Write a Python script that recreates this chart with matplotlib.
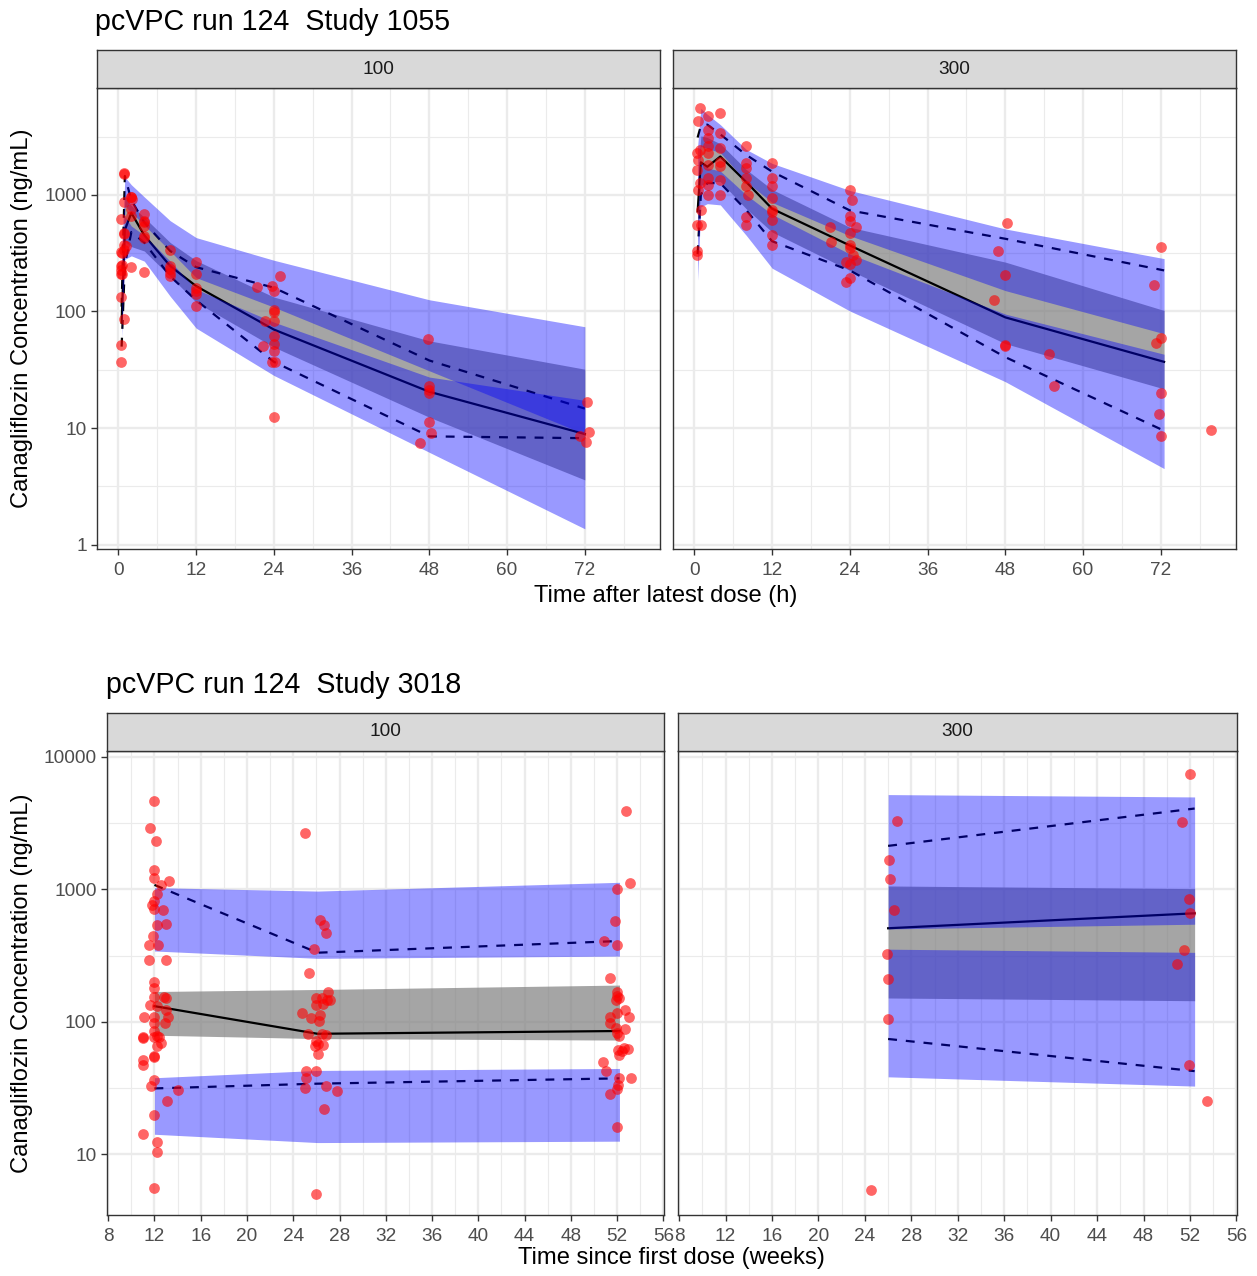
import matplotlib
matplotlib.use('Agg')
import matplotlib.pyplot as plt
from matplotlib.ticker import NullFormatter

plt.rcParams['font.family'] = ['Liberation Sans', 'DejaVu Sans']

W, H = 1257, 1276

# ---- Study 1055, 100 mg (time after dose, h) ----
t_1055_100 = [0.5, 1, 2, 4, 8, 12, 24, 48, 72]
hi95_1055_100 = [300, 1420, 1220, 960, 600, 430, 275, 126, 74]
lo95_1055_100 = [140, 800, 710, 550, 330, 195, 109, 31, 8.9]
hiM_1055_100 = [180, 950, 810, 640, 390, 273, 133, 56, 32]
loM_1055_100 = [80, 400, 360, 330, 200, 120, 49.5, 12.4, 3.6]
hi5_1055_100 = [110, 650, 540, 450, 270, 155, 81, 27.4, 17.3]
lo5_1055_100 = [60, 280, 300, 270, 135, 72, 28.3, 6.2, 1.37]
p95_1055_100 = [110, 1450, 900, 580, 330, 240, 160, 38, 14.7]
med_1055_100 = [80, 500, 700, 450, 245, 165, 70, 20.5, 8.9]
p5_1055_100 = [50, 250, 480, 390, 200, 125, 37, 8.5, 8.2]
obs_t_1055_100 = [0.4, 0.4, 0.4, 0.4, 0.4, 0.4, 0.4, 0.4, 0.5, 0.5, 0.6,
                  0.9, 0.9, 0.9, 0.9, 0.9, 0.9, 0.9, 0.9, 1.1,
                  2.0, 1.9, 2.1, 2.0, 2.0, 1.9,
                  3.9, 4.0, 4.0, 4.0, 4.0, 3.9, 4.0,
                  8, 8, 8, 8, 8,
                  12, 12, 12, 12, 12, 12,
                  21.4, 23.7, 24, 25, 24, 24, 22.6, 24, 24, 24, 24, 22.3, 23.7, 24.1, 24,
                  47.8, 48, 48, 48, 48, 48.2, 46.6,
                  72.3, 72.7, 71.3, 72.2]
obs_c_1055_100 = [620, 325, 245, 225, 209, 134, 52, 37, 250, 210, 320,
                  1550, 1500, 860, 475, 335, 86, 465, 370, 365,
                  950, 950, 920, 660, 750, 240,
                  690, 600, 540, 445, 430, 218, 590,
                  335, 245, 230, 215, 200,
                  263, 209, 158, 150, 140, 112,
                  162, 167, 149, 200, 103, 99, 83, 83, 62, 53, 46, 51, 37, 37, 12.4,
                  58.5, 22.8, 21.3, 20, 11.2, 9.1, 7.4,
                  16.7, 9.2, 8.5, 7.6]

# ---- Study 1055, 300 mg ----
t_1055_300 = [0.5, 1, 2, 4, 8, 12, 24, 48, 72.5]
hi95_1055_300 = [2600, 5500, 4900, 4000, 2450, 1860, 1090, 510, 284]
lo95_1055_300 = [1000, 2600, 2500, 2300, 1300, 860, 446, 151, 64.5]
hiM_1055_300 = [1300, 3200, 3100, 2740, 1650, 1110, 527, 265, 102]
loM_1055_300 = [400, 1200, 1300, 1300, 760, 480, 225, 53, 21.7]
hi5_1055_300 = [700, 1900, 1700, 1600, 1000, 680, 311, 95, 43]
lo5_1055_300 = [185, 790, 840, 820, 450, 235, 101, 25, 4.5]
p95_1055_300 = [3100, 3900, 4000, 3300, 2200, 1580, 735, 420, 225]
med_1055_300 = [720, 1900, 1740, 2130, 1290, 760, 368, 89, 37]
p5_1055_300 = [310, 1000, 1260, 1260, 740, 400, 225, 40.6, 9.5]
obs_t_1055_300 = [0.9, 0.5, 2.1, 3.9, 2.1, 2.1, 0.8, 0.4, 0.5, 0.4, 2.1, 2.1,
                  3.9, 3.9, 3.9, 3.9, 2.1, 2.1, 2.1, 0.8, 0.5, 2.1, 3.9, 3.9,
                  1.0, 0.4, 1.0, 0.4, 0.4,
                  8, 8, 8, 8, 8, 8.2, 8, 8,
                  12, 12, 12, 12, 12, 12, 12, 12, 12,
                  24, 24.4, 24, 24, 25, 21, 21.1, 24, 24, 24, 24.5, 25, 23.4, 24, 24, 23.4,
                  48.2, 46.9, 48, 46.2, 48, 48, 54.7, 55.5,
                  72, 71, 72, 71.3, 72, 71.7, 72, 79.8]
obs_c_1055_300 = [5500, 4270, 4700, 5000, 3600, 3070, 2430, 2280, 2000, 1640, 2600, 2280,
                  3380, 2510, 1930, 1750, 1810, 1390, 1220, 1260, 1100, 1000, 1350, 1000,
                  740, 550, 550, 330, 306,
                  2600, 1870, 1690, 1390, 1180, 1000, 650, 550,
                  1870, 1390, 1180, 935, 745, 715, 610, 455, 373,
                  1090, 906, 665, 602, 535, 535, 393, 470, 368, 350, 302, 274, 265, 256, 194, 178,
                  572, 329, 206, 126, 52, 51, 43.4, 23,
                  356, 169, 59.5, 54, 20, 13.3, 8.6, 9.7]

# ---- Study 3018, 100 mg (weeks) ----
t_3018_100 = [12.0, 26.1, 52.2]
hi95_3018_100 = [1030, 970, 1130]
lo95_3018_100 = [342, 301, 313]
hiM_3018_100 = [169, 175, 189]
loM_3018_100 = [79, 74.5, 72.6]
hi5_3018_100 = [37.7, 42.8, 44.3]
lo5_3018_100 = [14.1, 12.2, 12.5]
p95_3018_100 = [1080, 332, 407]
med_3018_100 = [131, 81, 85]
p5_3018_100 = [31.3, 34, 37.3]
obs_t_3018_100 = [12.0, 11.6, 12.1, 12.0, 12.0, 13.3, 12.6, 12.2, 12.0, 11.8, 12.0, 12.7,
                  12.2, 13.0, 11.9, 11.5, 12.3, 11.5, 13.0, 12.0, 12.0, 12.0, 12.8, 13.0,
                  11.6, 12.2, 13.0, 11.1, 12.0, 13.2, 12.0, 12.9, 12.0, 12.2, 11.0, 11.0,
                  12.4, 12.0, 12.2, 12.6, 12.0, 12.0, 11.0, 11.0, 12.0, 11.7, 14.0, 13.1,
                  12.0, 12.2, 12.2, 11.0, 12.0,
                  25.0, 26.3, 26.7, 26.8, 25.8, 25.4, 27.0, 26.0, 26.5, 26.9, 27.2, 26.0,
                  26.6, 24.8, 25.5, 26.3, 26.2, 25.3, 26.5, 26.8, 26.0, 26.1, 25.9, 26.6,
                  26.1, 25.1, 26.0, 25.1, 25.0, 26.8, 27.8, 26.7, 26.0,
                  52.8, 53.1, 52.0, 51.8, 50.9, 52.0, 51.4, 52.0, 52.0, 52.2, 51.9, 52.7,
                  51.4, 53.0, 52.0, 51.4, 52.7, 51.9, 52.0, 52.2, 52.6, 52.9, 52.1, 52.4,
                  52.2, 50.8, 51.0, 53.2, 52.2, 52.1, 52.0, 51.4, 52.0]
obs_c_3018_100 = [4650, 2890, 2320, 1400, 1225, 1157, 1072, 927, 816, 757, 706, 694,
                  535, 544, 444, 378, 378, 290, 290, 200, 179, 154, 154, 150,
                  133, 131, 122, 108, 108, 108, 97, 98, 85, 78, 76, 75,
                  77, 77, 66, 69, 55, 54, 51, 47, 36, 32.7, 30.5, 25.1,
                  19.6, 12.3, 10.4, 14.1, 5.57,
                  2680, 583, 535, 471, 352, 234, 169, 152, 152, 145, 147, 133,
                  135, 117, 106, 112, 101, 80, 80, 79, 72, 68, 66, 67,
                  57, 42.4, 42.4, 37.8, 31.7, 32.7, 29.9, 21.8, 5.0,
                  3910, 1122, 1012, 577, 408, 379, 212, 169, 155, 150, 145, 122,
                  108, 108, 116, 97, 88.5, 89, 82, 78, 63.7, 62, 61, 60,
                  56, 49.5, 42.4, 37.3, 37.6, 33, 31, 28.3, 16]

# ---- Study 3018, 300 mg ----
t_3018_300 = [26.0, 52.4]
hi95_3018_300 = [5200, 4990]
lo95_3018_300 = [502, 545]
hiM_3018_300 = [1060, 1012]
loM_3018_300 = [151, 144]
hi5_3018_300 = [353, 334]
lo5_3018_300 = [38.3, 32.6]
p95_3018_300 = [2130, 4080]
med_3018_300 = [508, 659]
p5_3018_300 = [74, 42.3]
obs_t_3018_300 = [52.0, 26.8, 51.3, 26.1, 26.2, 26.5, 51.9, 52.0, 25.9, 51.5, 50.9,
                  26.0, 26.0, 51.9, 53.5, 24.5]
obs_c_3018_300 = [7480, 3310, 3240, 1655, 1190, 698, 845, 659, 324, 345, 272,
                  211, 104, 47.4, 25, 5.36]

BLUE = '#0000FF'
DARK = '#333333'


def rect(x0, y0, x1, y1):
    return [x0 / W, 1 - y1 / H, (x1 - x0) / W, (y1 - y0) / H]


def draw_vpc(ax, t, hi95, lo95, hiM, loM, hi5, lo5, p95, med, p5, ot, oc):
    # gray first, then lines, then blue ribbons on top (lines show through as navy)
    ax.fill_between(t, loM, hiM, color='#7F7F7F', alpha=0.7, lw=0, zorder=1)
    ax.plot(t, med, color='black', lw=1.6, zorder=2)
    ax.plot(t, p95, color='black', lw=1.6, ls=(0, (4, 4)), zorder=2)
    ax.plot(t, p5, color='black', lw=1.6, ls=(0, (4, 4)), zorder=2)
    ax.fill_between(t, lo95, hi95, color=BLUE, alpha=0.4, lw=0, zorder=3)
    ax.fill_between(t, lo5, hi5, color=BLUE, alpha=0.4, lw=0, zorder=3)
    ax.scatter(ot, oc, s=60, color='red', alpha=0.6, lw=0, zorder=4)


def style(ax, xlim, ylim, xmaj, xmin, ymaj, ymin, show_y):
    ax.set_yscale('log')
    ax.set_xlim(xlim)
    ax.set_ylim(ylim)
    ax.set_xticks(xmaj, [str(v) for v in xmaj])
    ax.set_xticks(xmin, minor=True)
    ax.set_yticks(ymaj, [str(v) for v in ymaj])
    ax.set_yticks(ymin, minor=True)
    ax.yaxis.set_minor_formatter(NullFormatter())
    ax.grid(which='major', color='#EBEBEB', lw=1.7)
    ax.grid(which='minor', color='#EBEBEB', lw=0.85)
    ax.set_axisbelow(True)
    ax.tick_params(which='minor', length=0)
    ax.tick_params(which='major', length=4.3, width=1, color=DARK,
                   labelsize=13.7, labelcolor='#4D4D4D', pad=3)
    ax.tick_params(axis='x', pad=5)
    if not show_y:
        ax.tick_params(axis='y', which='both', left=False, labelleft=False)
    for s in ax.spines.values():
        s.set_color(DARK)
        s.set_linewidth(1)


def strip(fig, box, label):
    sax = fig.add_axes(rect(*box))
    sax.set_facecolor('#D9D9D9')
    sax.set_xticks([])
    sax.set_yticks([])
    for s in sax.spines.values():
        s.set_color(DARK)
        s.set_linewidth(1)
    sax.text(0.5, 0.5, label, ha='center', va='center', fontsize=13.7,
             color='#1A1A1A', transform=sax.transAxes)


fig = plt.figure(figsize=(W / 100, H / 100), dpi=100)

# top block
xl_top = (-3.3, 83.6)
yl_top = (0.92, 8240)
xmaj_top = [0, 12, 24, 36, 48, 60, 72]
xmin_top = [6, 18, 30, 42, 54, 66, 78]
ymaj_top = [1, 10, 100, 1000]
ymin_top = [3.162, 31.62, 316.2, 3162]

ax1 = fig.add_axes(rect(97, 88, 660, 549))
draw_vpc(ax1, t_1055_100, hi95_1055_100, lo95_1055_100, hiM_1055_100, loM_1055_100,
         hi5_1055_100, lo5_1055_100, p95_1055_100, med_1055_100, p5_1055_100,
         obs_t_1055_100, obs_c_1055_100)
style(ax1, xl_top, yl_top, xmaj_top, xmin_top, ymaj_top, ymin_top, True)

ax2 = fig.add_axes(rect(673, 88, 1236, 549))
draw_vpc(ax2, t_1055_300, hi95_1055_300, lo95_1055_300, hiM_1055_300, loM_1055_300,
         hi5_1055_300, lo5_1055_300, p95_1055_300, med_1055_300, p5_1055_300,
         obs_t_1055_300, obs_c_1055_300)
style(ax2, xl_top, yl_top, xmaj_top, xmin_top, ymaj_top, ymin_top, False)

strip(fig, (97, 50, 660, 88), '100')
strip(fig, (673, 50, 1236, 88), '300')

fig.text(95 / W, 1 - 22 / H, 'pcVPC run 124  Study 1055', fontsize=20.6,
         ha='left', va='center')
fig.text(22 / W, 1 - 318 / H, 'Canagliflozin Concentration (ng/mL)', fontsize=17.1,
         rotation=90, ha='center', va='center')
fig.text(666 / W, 1 - 596 / H, 'Time after latest dose (h)', fontsize=17.1,
         ha='center', va='center')

# bottom block
xl_bot = (7.9, 56.05)
yl_bot = (3.46, 11100)
xmaj_bot = list(range(8, 57, 4))
xmin_bot = list(range(10, 55, 4))
ymaj_bot = [10, 100, 1000, 10000]
ymin_bot = [31.62, 316.2, 3162]

ax3 = fig.add_axes(rect(107, 751, 664, 1215))
draw_vpc(ax3, t_3018_100, hi95_3018_100, lo95_3018_100, hiM_3018_100, loM_3018_100,
         hi5_3018_100, lo5_3018_100, p95_3018_100, med_3018_100, p5_3018_100,
         obs_t_3018_100, obs_c_3018_100)
style(ax3, xl_bot, yl_bot, xmaj_bot, xmin_bot, ymaj_bot, ymin_bot, True)

ax4 = fig.add_axes(rect(678, 751, 1237, 1215))
draw_vpc(ax4, t_3018_300, hi95_3018_300, lo95_3018_300, hiM_3018_300, loM_3018_300,
         hi5_3018_300, lo5_3018_300, p95_3018_300, med_3018_300, p5_3018_300,
         obs_t_3018_300, obs_c_3018_300)
style(ax4, xl_bot, yl_bot, xmaj_bot, xmin_bot, ymaj_bot, ymin_bot, False)

strip(fig, (107, 713, 664, 751), '100')
strip(fig, (678, 713, 1237, 751), '300')

fig.text(106 / W, 1 - 685 / H, 'pcVPC run 124  Study 3018', fontsize=20.6,
         ha='left', va='center')
fig.text(22 / W, 1 - 983 / H, 'Canagliflozin Concentration (ng/mL)', fontsize=17.1,
         rotation=90, ha='center', va='center')
fig.text(671 / W, 1 - 1258 / H, 'Time since first dose (weeks)', fontsize=17.1,
         ha='center', va='center')

fig.savefig('out.png', dpi=100)
